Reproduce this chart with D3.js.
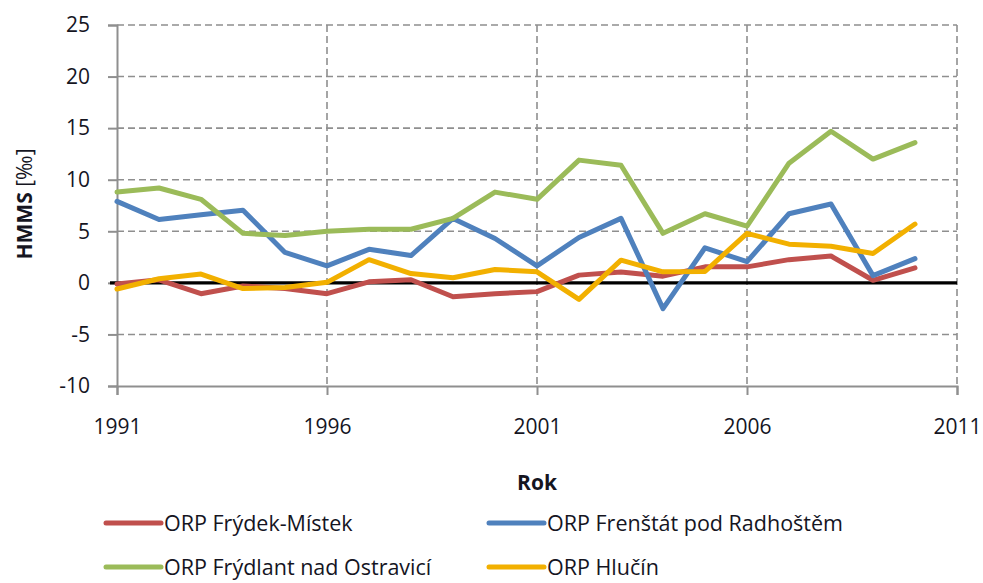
<!DOCTYPE html>
<html>
<head>
<meta charset="utf-8">
<script src="https://cdn.jsdelivr.net/npm/d3@7/dist/d3.min.js"></script>
<style>
  html, body { margin: 0; padding: 0; background: #fff; }
  svg { display: block; }
  text { font-family: "Open Sans", "DejaVu Sans", sans-serif; fill: #15151f; }
</style>
</head>
<body>
<svg id="chart" width="983" height="583"></svg>
<script>
// Years on the horizontal axis
const years = d3.range(1991, 2011);

// Series values (HMMS, per mille)
const frydekMistek = [-0.1, 0.3, -1.05, -0.3, -0.55, -1.05, 0.1, 0.3, -1.35, -1.05, -0.85, 0.75, 1.05, 0.65, 1.55, 1.55, 2.25, 2.6, 0.25, 1.45];
const frenstat     = [7.9, 6.15, 6.6, 7.05, 2.95, 1.65, 3.25, 2.65, 6.25, 4.3, 1.65, 4.4, 6.25, -2.5, 3.4, 2.05, 6.7, 7.65, 0.7, 2.35];
const frydlant     = [8.8, 9.2, 8.1, 4.8, 4.6, 5.0, 5.2, 5.2, 6.25, 8.8, 8.1, 11.9, 11.4, 4.8, 6.7, 5.5, 11.6, 14.7, 12.0, 13.6];
const hlucin       = [-0.6, 0.4, 0.85, -0.55, -0.45, 0.05, 2.25, 0.9, 0.5, 1.3, 1.07, -1.6, 2.2, 1.07, 1.1, 4.8, 3.75, 3.55, 2.85, 5.7];

const seriesNames  = ["ORP Frýdek-Místek", "ORP Frenštát pod Radhoštěm", "ORP Frýdlant nad Ostravicí", "ORP Hlučín"];
const seriesColors = ["#C0504D", "#4F81BD", "#9BBB59", "#F2B000"];
const seriesValues = [frydekMistek, frenstat, frydlant, hlucin];

// Axis ticks
const xTicks = [1991, 1996, 2001, 2006, 2011];
const yTicks = [-10, -5, 0, 5, 10, 15, 20, 25];

const svg = d3.select("#chart");

const x = d3.scaleLinear().domain([1991, 2011]).range([117, 957]);
const y = d3.scaleLinear().domain([-10, 25]).range([386, 25]);

const gridColor = "#8f8f8f";
const plainNumber = d => String(d);

// Dashed horizontal gridlines
svg.append("g").selectAll("line")
  .data(yTicks.filter(v => v !== -10 && v !== 0))
  .join("line")
  .attr("x1", x(1991)).attr("x2", x(2011))
  .attr("y1", d => y(d)).attr("y2", d => y(d))
  .attr("stroke", gridColor).attr("stroke-width", 1.6)
  .attr("stroke-dasharray", "7,4");

// Dashed vertical gridlines
svg.append("g").selectAll("line")
  .data(xTicks.filter(v => v !== 1991))
  .join("line")
  .attr("x1", d => x(d)).attr("x2", d => x(d))
  .attr("y1", y(25)).attr("y2", y(-10))
  .attr("stroke", gridColor).attr("stroke-width", 1.6)
  .attr("stroke-dasharray", "7,4");

// Y axis
const yAxis = svg.append("g")
  .attr("transform", `translate(${x(1991)},0)`)
  .call(d3.axisLeft(y).tickValues(yTicks).tickSize(9).tickPadding(18).tickFormat(plainNumber));
yAxis.select(".domain").attr("stroke", gridColor).attr("stroke-width", 2);
yAxis.selectAll(".tick line").attr("stroke", gridColor).attr("stroke-width", 2);
yAxis.selectAll(".tick text")
  .attr("font-size", 21).attr("font-family", "'Open Sans', sans-serif").attr("fill", "#15151f");

// X axis
const xAxis = svg.append("g")
  .attr("transform", `translate(0,${y(-10)})`)
  .call(d3.axisBottom(x).tickValues(xTicks).tickSize(9).tickPadding(24).tickFormat(plainNumber));
xAxis.select(".domain").attr("stroke", gridColor).attr("stroke-width", 2);
xAxis.selectAll(".tick line").attr("stroke", gridColor).attr("stroke-width", 2);
xAxis.selectAll(".tick text")
  .attr("font-size", 21).attr("font-family", "'Open Sans', sans-serif").attr("fill", "#15151f");

// Zero line
svg.append("line")
  .attr("x1", x(1991) - 7).attr("x2", x(2011))
  .attr("y1", y(0)).attr("y2", y(0))
  .attr("stroke", "#000").attr("stroke-width", 3.2);

// Series lines
const line = d3.line().x((d, i) => x(years[i])).y(d => y(d));
svg.append("g").selectAll("path")
  .data(seriesValues)
  .join("path")
  .attr("d", d => line(d))
  .attr("fill", "none")
  .attr("stroke", (d, i) => seriesColors[i])
  .attr("stroke-width", 5)
  .attr("stroke-linejoin", "round")
  .attr("stroke-linecap", "round");

// Axis titles
const yTitle = svg.append("text")
  .attr("transform", "translate(32,204) rotate(-90)")
  .attr("text-anchor", "middle")
  .attr("font-size", 21);
yTitle.append("tspan").attr("font-weight", "bold").text("HMMS");
yTitle.append("tspan").text(" [‰]");

svg.append("text")
  .attr("x", x(2001)).attr("y", 490)
  .attr("text-anchor", "middle")
  .attr("font-size", 21).attr("font-weight", "bold")
  .text("Rok");

// Legend
const legendPos = [[106, 523], [489, 523], [106, 567], [489, 567]];
const legend = svg.append("g").selectAll("g")
  .data(seriesNames)
  .join("g")
  .attr("transform", (d, i) => `translate(${legendPos[i][0]},${legendPos[i][1]})`);
legend.append("line")
  .attr("x1", 0).attr("x2", 55).attr("y1", 0).attr("y2", 0)
  .attr("stroke", (d, i) => seriesColors[i])
  .attr("stroke-width", 5).attr("stroke-linecap", "round");
legend.append("text")
  .attr("x", 58).attr("y", 0).attr("dy", "0.35em")
  .attr("font-size", 21.5)
  .text(d => d);
</script>
</body>
</html>
